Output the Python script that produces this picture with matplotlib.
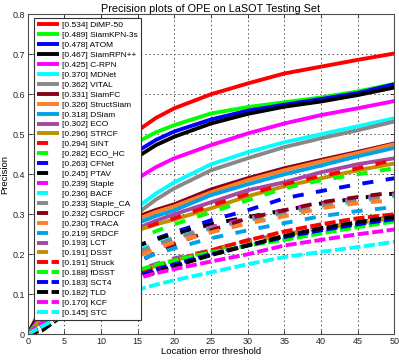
import matplotlib
matplotlib.use("Agg")
import matplotlib.pyplot as plt

plt.rcParams['font.family'] = ['Liberation Sans', 'DejaVu Sans']
plt.rcParams['lines.scale_dashes'] = False

thresholds = [0, 2, 5, 10, 15, 17.5, 20, 25, 30, 35, 40, 45, 50]

names = ["DiMP-50", "SiamKPN-3s", "ATOM", "SiamRPN++", "C-RPN", "MDNet", "VITAL",
         "SiamFC", "StructSiam", "DSiam", "ECO", "STRCF", "SINT", "ECO_HC", "CFNet",
         "PTAV", "Staple", "BACF", "Staple_CA", "CSRDCF", "TRACA", "SRDCF", "LCT",
         "DSST", "Struck", "fDSST", "SCT4", "TLD", "KCF", "STC"]
scores = [0.534, 0.489, 0.478, 0.467, 0.425, 0.370, 0.362, 0.331, 0.326, 0.318,
          0.302, 0.296, 0.294, 0.282, 0.263, 0.245, 0.239, 0.236, 0.233, 0.232,
          0.230, 0.219, 0.193, 0.191, 0.191, 0.188, 0.183, 0.182, 0.170, 0.145]

dimp50     = [0, 0.07, 0.26, 0.43, 0.509, 0.541, 0.565, 0.600, 0.627, 0.652, 0.669, 0.686, 0.702]
siamkpn    = [0, 0.06, 0.24, 0.40, 0.481, 0.505, 0.523, 0.552, 0.568, 0.580, 0.592, 0.607, 0.626]
atom       = [0, 0.06, 0.23, 0.38, 0.458, 0.486, 0.507, 0.537, 0.559, 0.574, 0.588, 0.603, 0.625]
siamrpnpp  = [0, 0.06, 0.22, 0.37, 0.444, 0.473, 0.494, 0.527, 0.551, 0.569, 0.582, 0.598, 0.617]
crpn       = [0, 0.05, 0.19, 0.32, 0.390, 0.418, 0.440, 0.473, 0.502, 0.527, 0.548, 0.565, 0.583]
mdnet      = [0, 0.04, 0.15, 0.26, 0.318, 0.352, 0.380, 0.425, 0.455, 0.480, 0.500, 0.520, 0.540]
vital      = [0, 0.04, 0.14, 0.25, 0.303, 0.337, 0.365, 0.410, 0.440, 0.468, 0.490, 0.510, 0.532]
siamfc     = [0, 0.04, 0.14, 0.24, 0.294, 0.311, 0.325, 0.362, 0.390, 0.415, 0.436, 0.456, 0.477]
structsiam = [0, 0.04, 0.14, 0.24, 0.288, 0.306, 0.320, 0.355, 0.385, 0.410, 0.432, 0.453, 0.475]
dsiam      = [0, 0.04, 0.13, 0.23, 0.278, 0.296, 0.310, 0.348, 0.375, 0.400, 0.422, 0.445, 0.466]
eco        = [0, 0.04, 0.13, 0.22, 0.265, 0.284, 0.300, 0.330, 0.360, 0.380, 0.405, 0.425, 0.440]
strcf      = [0, 0.04, 0.13, 0.21, 0.260, 0.275, 0.287, 0.315, 0.345, 0.370, 0.390, 0.410, 0.427]
sint       = [0, 0.04, 0.13, 0.21, 0.260, 0.276, 0.290, 0.322, 0.350, 0.375, 0.395, 0.415, 0.436]
eco_hc     = [0, 0.04, 0.12, 0.20, 0.237, 0.258, 0.275, 0.305, 0.335, 0.365, 0.385, 0.400, 0.415]
cfnet      = [0, 0.03, 0.11, 0.18, 0.220, 0.239, 0.255, 0.285, 0.310, 0.340, 0.358, 0.375, 0.390]
ptav       = [0, 0.03, 0.11, 0.18, 0.222, 0.237, 0.250, 0.275, 0.293, 0.310, 0.327, 0.340, 0.352]
staple     = [0, 0.03, 0.10, 0.17, 0.205, 0.224, 0.240, 0.268, 0.290, 0.310, 0.325, 0.340, 0.350]
bacf       = [0, 0.03, 0.10, 0.17, 0.210, 0.227, 0.242, 0.265, 0.285, 0.303, 0.318, 0.332, 0.345]
staple_ca  = [0, 0.03, 0.10, 0.17, 0.205, 0.224, 0.240, 0.265, 0.287, 0.305, 0.322, 0.336, 0.348]
csrdcf     = [0, 0.03, 0.09, 0.15, 0.180, 0.204, 0.225, 0.260, 0.290, 0.310, 0.330, 0.343, 0.355]
traca      = [0, 0.03, 0.10, 0.16, 0.195, 0.214, 0.230, 0.255, 0.277, 0.295, 0.315, 0.328, 0.335]
srdcf      = [0, 0.03, 0.09, 0.15, 0.185, 0.201, 0.215, 0.240, 0.260, 0.278, 0.295, 0.308, 0.318]
lct        = [0, 0.03, 0.08, 0.13, 0.160, 0.176, 0.190, 0.210, 0.235, 0.250, 0.265, 0.280, 0.295]
dsst       = [0, 0.03, 0.08, 0.13, 0.155, 0.171, 0.185, 0.210, 0.230, 0.248, 0.263, 0.278, 0.290]
struck     = [0, 0.02, 0.07, 0.12, 0.150, 0.169, 0.185, 0.210, 0.235, 0.257, 0.275, 0.290, 0.300]
fdsst      = [0, 0.03, 0.08, 0.13, 0.160, 0.174, 0.185, 0.205, 0.222, 0.236, 0.252, 0.268, 0.282]
sct4       = [0, 0.02, 0.07, 0.12, 0.145, 0.161, 0.175, 0.200, 0.222, 0.243, 0.260, 0.275, 0.288]
tld        = [0, 0.01, 0.05, 0.11, 0.140, 0.156, 0.170, 0.198, 0.222, 0.246, 0.265, 0.280, 0.294]
kcf        = [0, 0.03, 0.07, 0.12, 0.140, 0.153, 0.163, 0.182, 0.200, 0.222, 0.236, 0.250, 0.262]
stc        = [0, 0.02, 0.05, 0.09, 0.111, 0.124, 0.135, 0.155, 0.175, 0.193, 0.206, 0.218, 0.231]

series = [dimp50, siamkpn, atom, siamrpnpp, crpn, mdnet, vital, siamfc, structsiam,
          dsiam, eco, strcf, sint, eco_hc, cfnet, ptav, staple, bacf, staple_ca,
          csrdcf, traca, srdcf, lct, dsst, struck, fdsst, sct4, tld, kcf, stc]

base_colors = [(1, 0, 0), (0, 1, 0), (0, 0, 1), (0, 0, 0), (1, 0, 1), (0, 1, 1),
               (136/255, 136/255, 136/255), (136/255, 0, 21/255), (1, 127/255, 39/255),
               (0, 162/255, 232/255), (163/255, 73/255, 164/255), (191/255, 144/255, 0)]

fig = plt.figure(figsize=(3.99, 3.6), dpi=100)
ax = fig.add_axes([0.0694, 0.0714, 0.9186, 0.8889])

for i, (nm, sc, vals) in enumerate(zip(names, scores, series)):
    col = base_colors[i % 12]
    grp = i // 12
    if grp == 0:
        ls = '-'
    elif grp == 1:
        ls = (0, (8, 9))
    else:
        ls = (0, (8, 2.5))
    ax.plot(thresholds, vals, color=col, lw=2.8, linestyle=ls,
            label='[%.3f] %s' % (sc, nm), solid_capstyle='butt', dash_capstyle='butt')

ax.set_xlim(0, 50)
ax.set_ylim(0, 0.8)
ax.set_xticks(range(0, 51, 5))
ax.set_yticks([0, 0.1, 0.2, 0.3, 0.4, 0.5, 0.6, 0.7, 0.8])
ax.set_yticklabels(['0', '0.1', '0.2', '0.3', '0.4', '0.5', '0.6', '0.7', '0.8'])
ax.tick_params(direction='in', length=3, width=0.6, labelsize=6.5, top=True, right=True,
               colors='0.15', pad=2)
ax.grid(True, linestyle=(0, (1, 2)), color='0.2', linewidth=0.6)
for s in ax.spines.values():
    s.set_color('0.3')
    s.set_linewidth(0.8)

ax.set_title('Precision plots of OPE on LaSOT Testing Set', fontsize=7.8, pad=2)
ax.set_xlabel('Location error threshold', fontsize=6.8, labelpad=1)
ax.set_ylabel('Precision', fontsize=6.8, labelpad=2)

leg = ax.legend(loc='upper left', bbox_to_anchor=(0.017, 0.988), borderaxespad=0,
                fontsize=6.0, labelspacing=0.25, handlelength=2.6, handletextpad=0.35,
                borderpad=0.4, fancybox=False, framealpha=1, edgecolor='0.2')
leg.get_frame().set_linewidth(0.8)

fig.savefig('out.png', dpi=100)
